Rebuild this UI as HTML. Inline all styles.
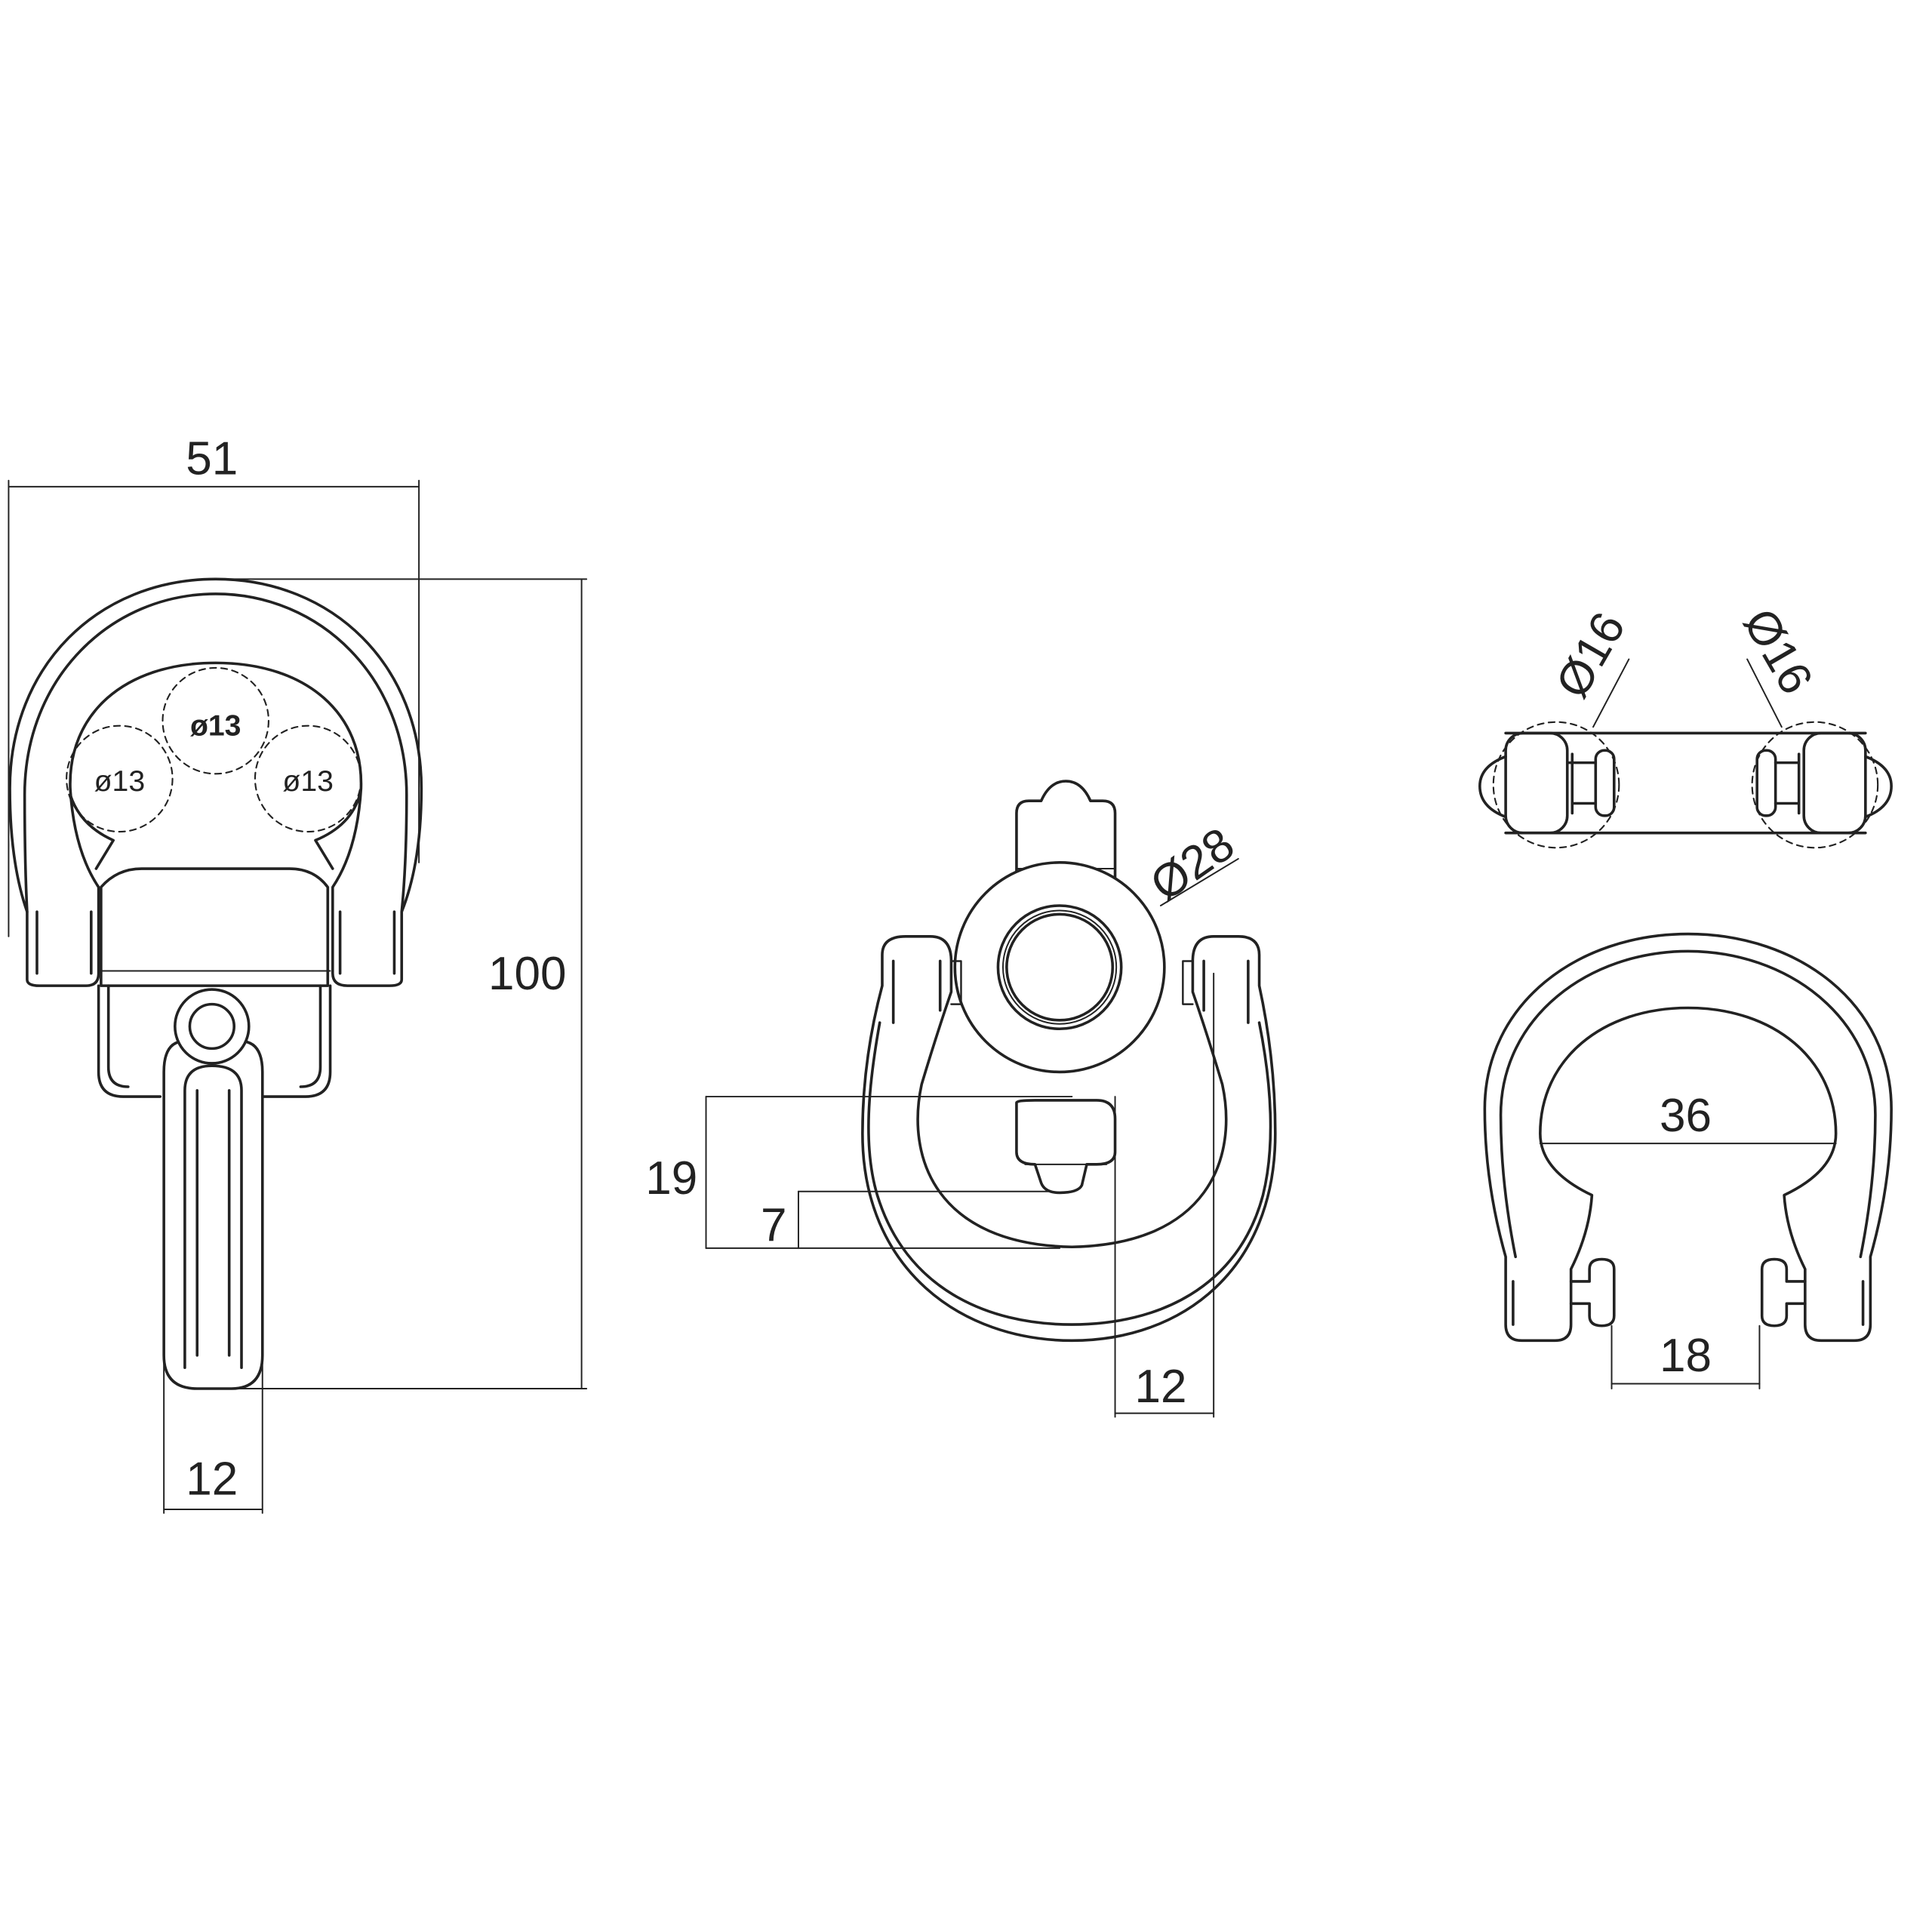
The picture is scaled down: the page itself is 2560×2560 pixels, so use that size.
<!DOCTYPE html>
<html><head><meta charset="utf-8"><style>
html,body{margin:0;padding:0;background:#fff;width:2560px;height:2560px;overflow:hidden}
svg{display:block}
text{font-family:"Liberation Sans",sans-serif;fill:#222}
</style></head><body>
<svg width="2560" height="2560" viewBox="0 0 1568 1568" xmlns="http://www.w3.org/2000/svg">
<g fill="none" stroke="#222" stroke-width="2.2" stroke-linejoin="round" stroke-linecap="round">
<!-- LEFT VIEW -->
<g stroke-width="1.2">
<line x1="7" y1="395" x2="340" y2="395"/>
<line x1="7" y1="390" x2="7" y2="760"/>
<line x1="340" y1="390" x2="340" y2="700"/>
<line x1="180" y1="470" x2="476" y2="470"/>
<line x1="190" y1="1127" x2="476" y2="1127"/>
<line x1="472" y1="470" x2="472" y2="1127"/>
<line x1="133" y1="1090" x2="133" y2="1228"/>
<line x1="213" y1="1090" x2="213" y2="1228"/>
<line x1="133" y1="1225" x2="213" y2="1225"/>
</g>
<path d="M22,795 L22,740 Q8,700 8,640 C8,540 80,470 175,470 C270,470 342,540 342,640 Q342,700 326,740 L326,795 Q326,800 316,800 L282,800 Q270,800 270,790 L270,720 Q290,690 293,640 C295,580 250,538 175,538 C100,538 55,580 57,640 Q60,690 80,720 L80,790 Q80,800 70,800 L32,800 Q22,800 22,795 Z"/>
<path d="M22,740 Q20,700 20,645 C20,550 90,482 175,482 C260,482 330,550 330,645 Q330,700 326,740"/>
<path d="M30,740 L30,790 M74,740 L74,790 M276,740 L276,790 M320,740 L320,790"/>
<!-- body -->
<path d="M82,720 Q95,705 115,705 L235,705 Q255,705 266,720 L266,800 L82,800 Z"/>
<path d="M57,645 Q65,670 92,682 L78,705 M292,645 Q285,670 256,682 L270,705"/>
<path d="M80,800 L80,870 Q80,890 100,890 L130,890 M268,800 L268,870 Q268,890 248,890 L213,890"/>
<path d="M88,800 L88,866 Q88,882 104,882 M260,800 L260,866 Q260,882 244,882"/>
<line x1="80" y1="788" x2="268" y2="788" stroke-width="1.2"/>
<g stroke-dasharray="5,4" stroke-width="1.3">
<circle cx="175" cy="585" r="43"/>
<circle cx="97" cy="632" r="43"/>
<circle cx="250" cy="632" r="43"/>
</g>
<path d="M133,870 L133,1100 Q133,1127 160,1127 L188,1127 Q213,1127 213,1100 L213,870 Q213,845 195,845 L150,845 Q133,845 133,870 Z" fill="#fff"/>
<path d="M150,1110 L150,885 Q150,865 172,865 Q196,865 196,885 L196,1110"/>
<path d="M160,1100 L160,885 M186,885 L186,1100"/>
<circle cx="172" cy="833" r="30" fill="#fff"/>
<circle cx="172" cy="833" r="18"/>

<!-- MIDDLE VIEW -->
<g stroke-width="1.2">
<line x1="573" y1="890" x2="870" y2="890"/>
<line x1="648" y1="967" x2="860" y2="967"/>
<line x1="573" y1="1013" x2="860" y2="1013"/>
<line x1="573" y1="890" x2="573" y2="1013"/>
<line x1="648" y1="967" x2="648" y2="1013"/>
<line x1="905" y1="890" x2="905" y2="1150"/>
<line x1="985" y1="790" x2="985" y2="1150"/>
<line x1="905" y1="1147" x2="985" y2="1147"/>
<line x1="942" y1="735" x2="1005" y2="697"/>
</g>
<path d="M716,790 L716,775 Q716,760 735,760 L755,760 Q772,760 772,780 L772,805 Q760,840 748,880 C735,940 760,1010 870,1012 C980,1010 1005,940 992,880 Q980,840 968,805 L968,780 Q968,760 985,760 L1005,760 Q1022,760 1022,775 L1022,800 Q1035,860 1035,920 C1035,1030 960,1088 870,1088 C780,1088 700,1030 700,920 Q700,860 716,800 Z"/>
<path d="M714,830 C705,880 700,930 712,970 C735,1045 800,1075 870,1075 C940,1075 1005,1045 1025,970 C1035,930 1032,880 1022,830"/>
<path d="M725,780 L725,830 M763,780 L763,820 M977,780 L977,820 M1013,780 L1013,830"/>
<path d="M825,720 L825,660 Q825,650 835,650 L845,650 Q852,634 865,634 Q878,634 885,650 L895,650 Q905,650 905,660 L905,720"/>
<line x1="825" y1="705" x2="905" y2="705" stroke-width="1.2"/>
<path d="M825,895 Q825,893 840,893 L890,893 Q905,893 905,908 L905,935 Q905,945 890,945 L882,945 L878,962 Q875,968 860,968 Q848,968 845,960 L840,945 Q825,945 825,935 Z" fill="#fff"/>
<line x1="832" y1="945" x2="898" y2="945" stroke-width="1.2"/>
<circle cx="860" cy="785" r="85" fill="#fff"/>
<circle cx="860" cy="785" r="50"/>
<circle cx="860" cy="785" r="46" stroke-width="1.2"/>
<circle cx="860" cy="785" r="43"/>
<path d="M772,780 L780,780 L780,815 L772,815 M968,780 L960,780 L960,815 L968,815" stroke-width="1.5"/>

<!-- RIGHT TOP -->
<line x1="1222" y1="595" x2="1514" y2="595"/>
<line x1="1222" y1="676" x2="1514" y2="676"/>
<rect x="1222" y="595" width="50" height="81" rx="14"/>
<rect x="1464" y="595" width="50" height="81" rx="14"/>
<path d="M1222,614 Q1201,622 1201,638 Q1201,655 1222,663"/>
<path d="M1514,614 Q1535,622 1535,638 Q1535,655 1514,663"/>
<path d="M1272,619 L1276,619 M1276,619 L1295,619 M1276,652 L1295,652 M1276,612 L1276,660"/>
<rect x="1295" y="609" width="15" height="53" rx="7"/>
<path d="M1460,612 L1460,660 M1441,619 L1460,619 M1441,652 L1460,652"/>
<rect x="1426" y="609" width="15" height="53" rx="7"/>
<g stroke-dasharray="5,4" stroke-width="1.3">
<circle cx="1263" cy="637" r="51"/>
<circle cx="1473" cy="637" r="51"/>
</g>
<g stroke-width="1.2">
<line x1="1293" y1="590" x2="1322" y2="535"/>
<line x1="1446" y1="590" x2="1418" y2="535"/>
</g>

<!-- RIGHT BOTTOM -->
<path d="M1222,1075 L1222,1020 Q1205,960 1205,900 C1205,815 1280,758 1370,758 C1460,758 1535,815 1535,900 Q1535,960 1518,1020 L1518,1075 Q1518,1088 1505,1088 L1478,1088 Q1465,1088 1465,1075 L1465,1030 Q1450,1000 1448,970 Q1490,950 1490,920 C1490,860 1440,818 1370,818 C1300,818 1250,860 1250,920 Q1250,950 1292,970 Q1290,1000 1275,1030 L1275,1075 Q1275,1088 1262,1088 L1235,1088 Q1222,1088 1222,1075 Z"/>
<path d="M1230,1020 Q1218,960 1218,905 C1218,825 1290,772 1370,772 C1450,772 1522,825 1522,905 Q1522,960 1510,1020"/>
<path d="M1228,1040 L1228,1075 M1512,1040 L1512,1075"/>
<path d="M1275,1040 L1290,1040 L1290,1030 Q1290,1022 1300,1022 Q1310,1022 1310,1030 L1310,1068 Q1310,1076 1300,1076 Q1290,1076 1290,1068 L1290,1058 L1275,1058"/>
<path d="M1465,1040 L1450,1040 L1450,1030 Q1450,1022 1440,1022 Q1430,1022 1430,1030 L1430,1068 Q1430,1076 1440,1076 Q1450,1076 1450,1068 L1450,1058 L1465,1058"/>
<g stroke-width="1.2">
<line x1="1250" y1="928" x2="1490" y2="928"/>
<line x1="1308" y1="1076" x2="1308" y2="1127"/>
<line x1="1428" y1="1076" x2="1428" y2="1127"/>
<line x1="1308" y1="1123" x2="1428" y2="1123"/>
</g>
</g>
<g font-size="38">
<text x="172" y="385" text-anchor="middle">51</text>
<text x="428" y="803" text-anchor="middle">100</text>
<text x="172" y="1213" text-anchor="middle">12</text>
<text x="545" y="969" text-anchor="middle">19</text>
<text x="628" y="1007" text-anchor="middle">7</text>
<text x="942" y="1138" text-anchor="middle">12</text>
<text x="1368" y="918" text-anchor="middle">36</text>
<text x="1368" y="1113" text-anchor="middle">18</text>
<text transform="translate(975,712) rotate(-35)" text-anchor="middle">Ø28</text>
<text transform="translate(1302,538) rotate(-60)" text-anchor="middle">Ø16</text>
<text transform="translate(1432,535) rotate(60)" text-anchor="middle">Ø16</text>
</g>
<g font-size="24">
<text x="175" y="597" text-anchor="middle" font-weight="bold">ø13</text>
<text x="97" y="642" text-anchor="middle">ø13</text>
<text x="250" y="642" text-anchor="middle">ø13</text>
</g>
</svg>
</body></html>
